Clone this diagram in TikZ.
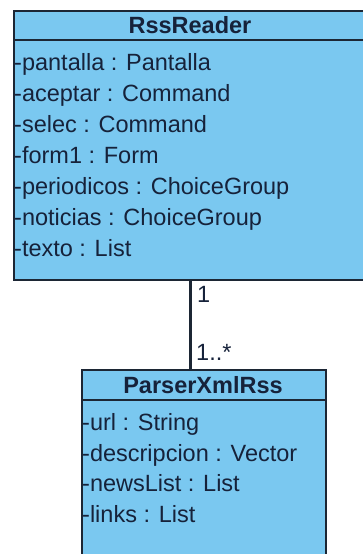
\documentclass[tikz,border=0pt]{standalone}
\usepackage{fontspec}
\setmainfont{Liberation Sans}
\usetikzlibrary{positioning}
\begin{document}
\begin{tikzpicture}[x=1pt,y=-1pt,line join=miter,
  classbox/.style={draw=boxline,fill=classfill,line width=1.6pt,anchor=north west,inner sep=0pt},
  attr/.style={anchor=base west,inner sep=0pt,text=inkblue,font=\fontsize{23.5}{28}\selectfont},
  classname/.style={anchor=base,inner sep=0pt,text=inkblue,font=\fontsize{23.5}{28}\selectfont\bfseries}]
\definecolor{classfill}{RGB}{122,200,240}
\definecolor{boxline}{RGB}{28,38,52}
\definecolor{inkblue}{RGB}{22,34,58}

\useasboundingbox (0,0) rectangle (363,554);
\clip (0,0) rectangle (363,554);
\fill[white] (0,0) rectangle (363,554);

% RssReader
\node[classbox,minimum width=354pt,minimum height=269pt] (rss) at (13,10) {};
\draw[boxline,line width=1.6pt] (rss.north west) ++(0,30) -- ++(354,0);
\node[classname] (rssname) at (190,33.5) {RssReader};
\foreach \txt [count=\i from 0] in {-pantalla : Pantalla,-aceptar : Command,-selec : Command,
  -form1 : Form,-periodicos : ChoiceGroup,-noticias : ChoiceGroup,-texto : List}
  \node[attr] (rssattr\i) at (14,{70.5+31*\i}) {\txt};

% ParserXmlRss
\node[classbox,minimum width=244pt,minimum height=200pt] (parser) at (81,369) {};
\draw[boxline,line width=1.6pt] (parser.north west) ++(0,31) -- ++(244,0);
\node[classname] (parsername) at (203,393.5) {ParserXmlRss};
\foreach \txt [count=\i from 0] in {-url : String,-descripcion : Vector,-newsList : List,-links : List}
  \node[attr] (parserattr\i) at (82,{430.5+30.5*\i}) {\txt};

% association
\draw[boxline,line width=3pt] (rss.south) -- (rss.south |- parser.north);
\node[attr] (multone) at (197,302) {1};
\node[attr] (multmany) at (196,360) {1..*};
\end{tikzpicture}
\end{document}
